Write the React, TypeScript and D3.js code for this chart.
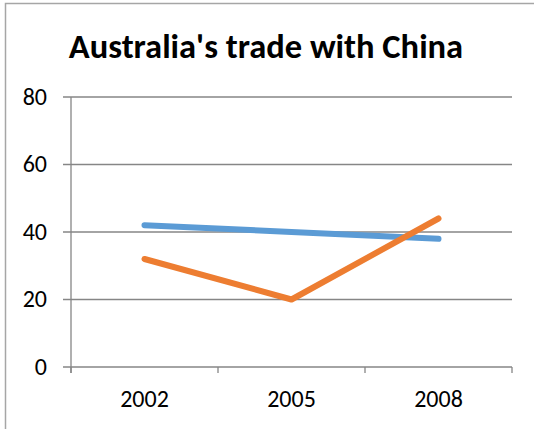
import React from "react";
import * as d3 from "d3";

const categories = ["2002", "2005", "2008"];
const seriesBlue = [42, 40, 38];
const seriesOrange = [32, 20, 44];
const yTicks = [0, 20, 40, 60, 80];
const title = "Australia's trade with China";

export default function App() {
  const W = 534, H = 429;
  const left = 71, right = 512, top = 97, bottom = 367;
  const x = d3.scaleBand().domain(categories).range([left, right]);
  const y = d3.scaleLinear().domain([0, 80]).range([bottom, top]);
  const line = d3
    .line<number>()
    .x((_, i) => (x(categories[i]) as number) + x.bandwidth() / 2)
    .y((d) => y(d));
  const font = "Carlito, Calibri, 'Open Sans', sans-serif";
  const gray = "#868686";
  const boundaries = [...categories.map((c) => x(c) as number), right];
  return (
    <svg
      width={W}
      height={H}
      style={{ position: "absolute", left: 0, top: 0, background: "#fff" }}
    >
      <rect x={5.5} y={3.5} width={W + 10} height={H + 10} fill="#fff" stroke="#a6a6a6" strokeWidth={1.5} />
      <text x={266} y={57.5} textAnchor="middle" fontFamily={font} fontWeight="bold" fontSize={34.5} fill="#000">
        {title}
      </text>
      {yTicks.map((t) => (
        <g key={t}>
          <line x1={63} x2={right} y1={y(t)} y2={y(t)} stroke={gray} strokeWidth={1.3} />
          <text x={47} y={y(t) + 7.5} textAnchor="end" fontFamily={font} fontSize={24} fill="#000">
            {t}
          </text>
        </g>
      ))}
      <line x1={left} x2={left} y1={top} y2={bottom + 6} stroke={gray} strokeWidth={1.3} />
      {boundaries.map((b, i) => (
        <line key={i} x1={b} x2={b} y1={bottom} y2={bottom + 6} stroke={gray} strokeWidth={1.3} />
      ))}
      {categories.map((c) => (
        <text
          key={c}
          x={(x(c) as number) + x.bandwidth() / 2}
          y={407}
          textAnchor="middle"
          fontFamily={font}
          fontSize={24}
          fill="#000"
        >
          {c}
        </text>
      ))}
      <path d={line(seriesBlue) || ""} fill="none" stroke="#5B9BD5" strokeWidth={6} strokeLinecap="round" strokeLinejoin="round" />
      <path d={line(seriesOrange) || ""} fill="none" stroke="#ED7D31" strokeWidth={6} strokeLinecap="round" strokeLinejoin="round" />
    </svg>
  );
}
